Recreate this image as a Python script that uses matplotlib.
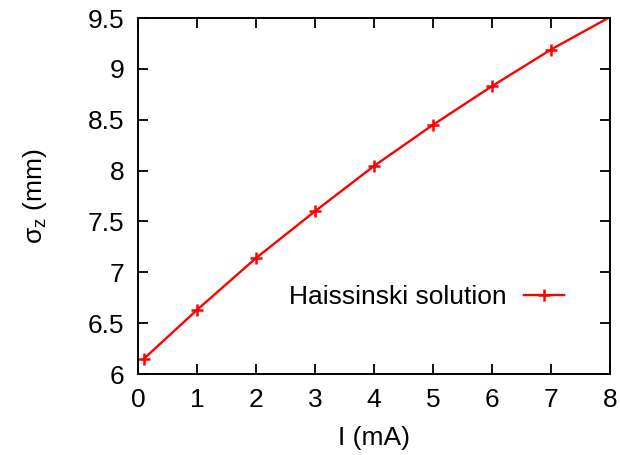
import matplotlib
matplotlib.use("Agg")
import matplotlib.pyplot as plt
from matplotlib.ticker import FuncFormatter, MultipleLocator

# bunch length vs current
current = [0.1, 1, 2, 3, 4, 5, 6, 7, 8]
sigma_z = [6.15, 6.63, 7.14, 7.60, 8.045, 8.45, 8.83, 9.19, 9.51]

plt.rcParams['font.family'] = ['Liberation Sans', 'DejaVu Sans']
plt.rcParams['mathtext.fontset'] = 'custom'
plt.rcParams['mathtext.rm'] = 'Liberation Sans'
plt.rcParams['font.size'] = 19

fig = plt.figure(figsize=(6.2, 4.55), dpi=100)
ax = fig.add_axes([0.2226, 0.178, 0.7613, 0.7824])

ax.plot(current, sigma_z, color='red', lw=1.7, marker='+', ms=8, mew=1.8,
        markevery=slice(0, 8), label='Haissinski solution')

ax.set_xlim(0, 8)
ax.set_ylim(6, 9.5)
ax.xaxis.set_major_locator(MultipleLocator(1))
ax.yaxis.set_major_locator(MultipleLocator(0.5))
ax.yaxis.set_major_formatter(FuncFormatter(lambda v, p: '%g' % v))
ax.tick_params(direction='in', top=True, right=True, length=7, width=1.3,
               labelsize=19, pad=10)
for s in ax.spines.values():
    s.set_linewidth(1.4)

ax.set_xlabel('I (mA)', fontsize=19, labelpad=10)
ax.set_ylabel('σ$_\\mathrm{z}$ (mm)', fontsize=19, labelpad=28)

ax.legend(loc='center right', bbox_to_anchor=(0.952, 0.216), frameon=False,
          markerfirst=False, handlelength=1.5, handletextpad=0.65, fontsize=19)

fig.savefig('out.png', dpi=100)
